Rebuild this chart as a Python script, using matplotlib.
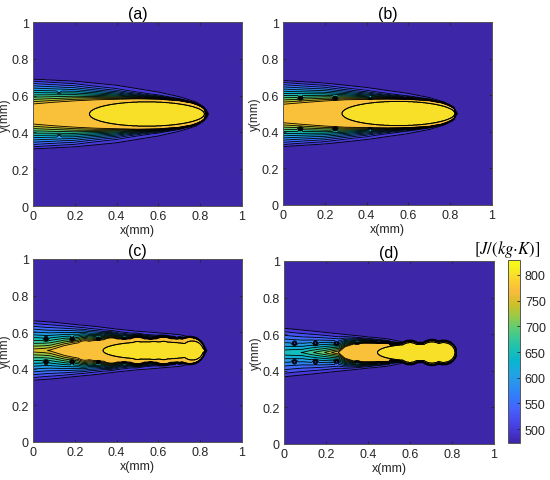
"""Specific heat maps of a scanned melt track, four cases, parula contours."""

import matplotlib

matplotlib.use("Agg")

import matplotlib.pyplot as plt  # noqa: E402
import numpy as np  # noqa: E402
from matplotlib.colors import LinearSegmentedColormap, Normalize  # noqa: E402
from matplotlib.cm import ScalarMappable  # noqa: E402

plt.rcParams["font.family"] = ["Liberation Sans", "DejaVu Sans"]
plt.rcParams["mathtext.fontset"] = "stix"

# ---- colour scale --------------------------------------------------------
CP_MIN, CP_MAX = 473.0, 829.0
BACKGROUND_CP = 474.0          # cold substrate, below the first contour
RAMP_BASE = 486.0
RAMP_FLOOR = 492.0             # dips never punch through to the substrate
MELT_CP = 772.0                # orange plateau
LIQUID_CP = 820.0              # yellow core
LIQUID_SHOWN = 800.0           # colour used for the top band
LINE_LEVELS = [485, 510, 535, 560, 585, 610, 635, 660, 685, 710, 735, 760, 785, 810]
CBAR_TICKS = [500, 550, 600, 650, 700, 750, 800]
AXIS_TICKS = [0, 0.2, 0.4, 0.6, 0.8, 1.0]
AXIS_TICK_LABELS = ["0", "0.2", "0.4", "0.6", "0.8", "1"]

# parula (every 4th entry of the 64-colour table)
PARULA = [
    (0.2422, 0.1504, 0.6603), (0.2706, 0.2147, 0.8364), (0.2813, 0.3006, 0.9414),
    (0.2699, 0.3892, 0.9906), (0.1963, 0.4847, 0.9892), (0.1687, 0.5703, 0.9359),
    (0.1248, 0.6459, 0.8883), (0.0297, 0.7082, 0.8163), (0.0964, 0.7500, 0.7120),
    (0.2161, 0.7843, 0.5923), (0.3909, 0.8029, 0.4354), (0.6174, 0.7876, 0.2612),
    (0.8203, 0.7498, 0.1535), (0.9728, 0.7298, 0.2394), (0.9892, 0.8136, 0.1885),
    (0.9628, 0.9373, 0.1265), (0.9769, 0.9839, 0.0805),
]
PARULA_POS = [0, 4, 8, 12, 16, 20, 24, 28, 32, 36, 40, 44, 48, 52, 56, 60, 63]

# ---- geometry (mm) -------------------------------------------------------
# ramp exponent along the track (lines pile up near the melt front)
RAMP_X = [0.0, 0.2, 0.4, 0.55, 0.7, 0.8, 0.9]
RAMP_EXP = [1.0, 1.2, 1.7, 2.5, 3.2, 3.5, 3.5]
MELT_RIM = 0.004
FRONT_GAP = 0.008
DOT_SIGMA = 0.008

# (a) continuous
OUTER_X_A = [0, 0.2, 0.4, 0.6, 0.7, 0.78, 0.81, 0.83, 0.84]
OUTER_HW_A = [0.190, 0.179, 0.157, 0.120, 0.095, 0.066, 0.046, 0.024, 0.0]
MELT_X_A = [0, 0.1, 0.2, 0.3, 0.5, 0.6, 0.7, 0.76, 0.79, 0.81, 0.82, 0.828]
MELT_HW_A = [0.052, 0.062, 0.070, 0.076, 0.082, 0.080, 0.072, 0.060, 0.048, 0.036, 0.026, 0.0]
LIQ_CX_A, LIQ_AX_A, LIQ_AY_A = [0.545], [0.275], [0.066]
EDGE_X_A, EDGE_V_A = [0, 0.828, 0.84], [765, 765, 486]
DOT_X_A, DOT_DY_A, DOT_DEPTH_A = [0.125], [0.12], [30]

# (b)
OUTER_X_B = [0, 0.2, 0.4, 0.6, 0.7, 0.77, 0.80, 0.82, 0.835]
OUTER_HW_B = [0.181, 0.167, 0.143, 0.110, 0.088, 0.064, 0.048, 0.030, 0.0]
MELT_X_B = [0, 0.1, 0.2, 0.3, 0.5, 0.6, 0.7, 0.76, 0.79, 0.81, 0.82, 0.826]
MELT_HW_B = [0.048, 0.058, 0.067, 0.074, 0.078, 0.077, 0.070, 0.058, 0.046, 0.034, 0.024, 0.0]
LIQ_CX_B, LIQ_AX_B, LIQ_AY_B = [0.552], [0.270], [0.066]
EDGE_X_B, EDGE_V_B = [0, 0.826, 0.835], [765, 765, 486]
DOT_X_B = [0.083, 0.25, 0.417, 0.583]
DOT_DY_B = [0.085, 0.085, 0.085, 0.085]
DOT_DEPTH_B = [160, 160, 70, 50]

# (c)
OUTER_X_C = [0, 0.1, 0.2, 0.3, 0.4, 0.5, 0.6, 0.7, 0.76, 0.80, 0.82, 0.832]
OUTER_HW_C = [0.163, 0.155, 0.143, 0.132, 0.118, 0.106, 0.097, 0.087, 0.072, 0.048, 0.030, 0.0]
MELT_X_C = [0, 0.082, 0.15, 0.2, 0.3, 0.4, 0.7, 0.76, 0.79, 0.81, 0.822]
MELT_HW_C = [0, 0, 0.025, 0.037, 0.055, 0.062, 0.064, 0.058, 0.046, 0.030, 0.0]
MELT_BEAD_X_C = [0.25, 0.375, 0.5, 0.625, 0.75]
MELT_BEAD_R_C = [0.052, 0.068, 0.071, 0.072, 0.071]
LIQ_CX_C = [0.578, 0.5, 0.625, 0.762]
LIQ_AX_C = [0.243, 0.049, 0.050, 0.052]
LIQ_AY_C = [0.048, 0.049, 0.050, 0.052]
EDGE_X_C, EDGE_V_C = [0, 0.05, 0.082, 0.822, 0.832], [748, 755, 765, 765, 486]
DOT_X_C = [0.0625, 0.1875, 0.3125, 0.4375, 0.5625, 0.6875]
DOT_DY_C = [0.064] * 6
DOT_DEPTH_C = [170] * 6

# (d)
OUTER_X_D = [0, 0.1, 0.2, 0.3, 0.4, 0.46, 0.5, 0.56, 0.6]
OUTER_HW_D = [0.133, 0.122, 0.110, 0.098, 0.086, 0.079, 0.074, 0.060, 0.0]
MELT_X_D = [0, 0.26, 0.29, 0.33, 0.38, 0.45, 0.5, 0.53]
MELT_HW_D = [0, 0, 0.030, 0.045, 0.050, 0.050, 0.048, 0.0]
MELT_BEAD_X_D = [0.60, 0.705, 0.76]
MELT_BEAD_R_D = [0.061, 0.065, 0.061]
LIQ_CX_D = [0.63, 0.60, 0.705, 0.76]
LIQ_AX_D = [0.185, 0.054, 0.058, 0.054]
LIQ_AY_D = [0.045, 0.054, 0.058, 0.054]
EDGE_X_D, EDGE_V_D = [0, 0.09, 0.195, 0.263, 0.82], [652, 662, 712, 765, 765]
DOT_X_D = [0.05, 0.15, 0.25, 0.35, 0.45]
DOT_DY_D = [0.05] * 5
DOT_DEPTH_D = [150] * 5

TITLES = ["(a)", "(b)", "(c)", "(d)"]
# axes boxes in figure pixels (left, top, right, bottom) for a 550x481 canvas
BOXES = [(33, 23, 242, 207), (283, 23, 492, 206), (33, 260, 242, 443), (284, 262, 494, 445)]
CBAR_BOX = (508, 261, 520, 444)
FIG_W, FIG_H = 550, 481


def _ellipses(x, cx, ax_, ay):
    hw = np.zeros_like(x)
    for c, a, b in zip(cx, ax_, ay):
        u = np.clip(1.0 - ((x - c) / a) ** 2, 0.0, None)
        hw = np.maximum(hw, b * np.sqrt(u))
    return hw


def cp_field(x, y, outer, melt, beads, liquid, edge, dots):
    X, Y = np.meshgrid(x, y)
    r = np.abs(Y - 0.5)
    liq = _ellipses(x, *liquid)
    melt_hw = np.interp(x, melt[0], melt[1], right=0.0)
    melt_hw = np.maximum(melt_hw, _ellipses(x, beads[0], beads[1], beads[1]))
    melt_hw = np.maximum(melt_hw, np.where(liq > 0, liq + MELT_RIM, 0.0))
    outer_hw = np.interp(x, outer[0], outer[1], right=0.0)
    outer_hw = np.maximum(outer_hw, np.where(melt_hw > 0, melt_hw + FRONT_GAP, 0.0))
    e = np.interp(x, edge[0], edge[1], right=RAMP_BASE)
    p = np.interp(x, RAMP_X, RAMP_EXP)
    s = (r - melt_hw) / np.maximum(outer_hw - melt_hw, 1e-6)
    ramp = RAMP_BASE + (e - RAMP_BASE) * np.clip(1.0 - s, 0.0, 1.0) ** p
    in_ramp = (r >= melt_hw) & (r <= outer_hw)
    dipped = ramp.copy()
    for xd, dy, depth in zip(*dots):
        d2 = (X - xd) ** 2 + (r - dy) ** 2
        dipped = dipped - depth * np.exp(-d2 / DOT_SIGMA ** 2) * in_ramp
    ramp = np.where(dipped < ramp, np.maximum(dipped, RAMP_FLOOR), ramp)
    cp = np.where(r <= outer_hw, ramp, BACKGROUND_CP)
    cp = np.where(r < melt_hw, MELT_CP, cp)
    cp = np.where(r < liq, LIQUID_CP, cp)
    return cp


parula = LinearSegmentedColormap.from_list(
    "parula", [(i / 63.0, c) for i, c in zip(PARULA_POS, PARULA)])
norm = Normalize(CP_MIN, CP_MAX)
fill_levels = [470] + LINE_LEVELS + [840]
band_mid = [0.5 * (a + b) for a, b in zip(fill_levels[:-1], fill_levels[1:])]
band_mid[0] = CP_MIN
band_mid[-1] = LIQUID_SHOWN
band_colors = [parula(norm(v)) for v in band_mid]

xs = np.linspace(0, 1, 700)
ys = np.linspace(0, 1, 700)
fields = [
    cp_field(xs, ys, (OUTER_X_A, OUTER_HW_A), (MELT_X_A, MELT_HW_A), ([], []),
             (LIQ_CX_A, LIQ_AX_A, LIQ_AY_A), (EDGE_X_A, EDGE_V_A),
             (DOT_X_A, DOT_DY_A, DOT_DEPTH_A)),
    cp_field(xs, ys, (OUTER_X_B, OUTER_HW_B), (MELT_X_B, MELT_HW_B), ([], []),
             (LIQ_CX_B, LIQ_AX_B, LIQ_AY_B), (EDGE_X_B, EDGE_V_B),
             (DOT_X_B, DOT_DY_B, DOT_DEPTH_B)),
    cp_field(xs, ys, (OUTER_X_C, OUTER_HW_C), (MELT_X_C, MELT_HW_C),
             (MELT_BEAD_X_C, MELT_BEAD_R_C), (LIQ_CX_C, LIQ_AX_C, LIQ_AY_C),
             (EDGE_X_C, EDGE_V_C), (DOT_X_C, DOT_DY_C, DOT_DEPTH_C)),
    cp_field(xs, ys, (OUTER_X_D, OUTER_HW_D), (MELT_X_D, MELT_HW_D),
             (MELT_BEAD_X_D, MELT_BEAD_R_D), (LIQ_CX_D, LIQ_AX_D, LIQ_AY_D),
             (EDGE_X_D, EDGE_V_D), (DOT_X_D, DOT_DY_D, DOT_DEPTH_D)),
]


def fig_rect(box):
    l, t, r, b = box
    return [l / FIG_W, 1 - b / FIG_H, (r - l) / FIG_W, (b - t) / FIG_H]


fig = plt.figure(figsize=(FIG_W / 100, FIG_H / 100), dpi=100)
for box, cp, title in zip(BOXES, fields, TITLES):
    ax = fig.add_axes(fig_rect(box))
    ax.contourf(xs, ys, cp, levels=fill_levels, colors=band_colors)
    ax.contour(xs, ys, cp, levels=LINE_LEVELS, colors="k", linewidths=0.6)
    ax.set_xlim(0, 1)
    ax.set_ylim(0, 1)
    ax.set_xticks(AXIS_TICKS)
    ax.set_xticklabels(AXIS_TICK_LABELS)
    ax.set_yticks(AXIS_TICKS)
    ax.set_yticklabels(AXIS_TICK_LABELS)
    ax.tick_params(direction="in", top=True, right=True, length=2.5, width=0.6,
                   labelsize=9, colors="#262626", pad=3)
    for sp in ax.spines.values():
        sp.set_color("#555555")
        sp.set_linewidth(0.7)
    ax.set_xlabel("x(mm)", fontsize=9, color="#262626", labelpad=1)
    ax.set_ylabel("y(mm)", fontsize=8.5, color="#262626")
    ax.yaxis.set_label_coords(-0.105, 0.5)
    ax.set_title(title, fontsize=11.5, pad=3)

cax = fig.add_axes(fig_rect(CBAR_BOX))
cb = fig.colorbar(ScalarMappable(norm=norm, cmap=parula), cax=cax, ticks=CBAR_TICKS)
cb.ax.tick_params(direction="in", length=2.5, width=0.6, labelsize=9, colors="#262626")
cb.outline.set_edgecolor("#555555")
cb.outline.set_linewidth(0.7)
fig.text(507 / FIG_W, 1 - 249 / FIG_H, r"$[J/(kg{\cdot}K)]$", fontsize=12,
         ha="center", va="center")

fig.savefig("out.png", dpi=100)
plt.close(fig)
